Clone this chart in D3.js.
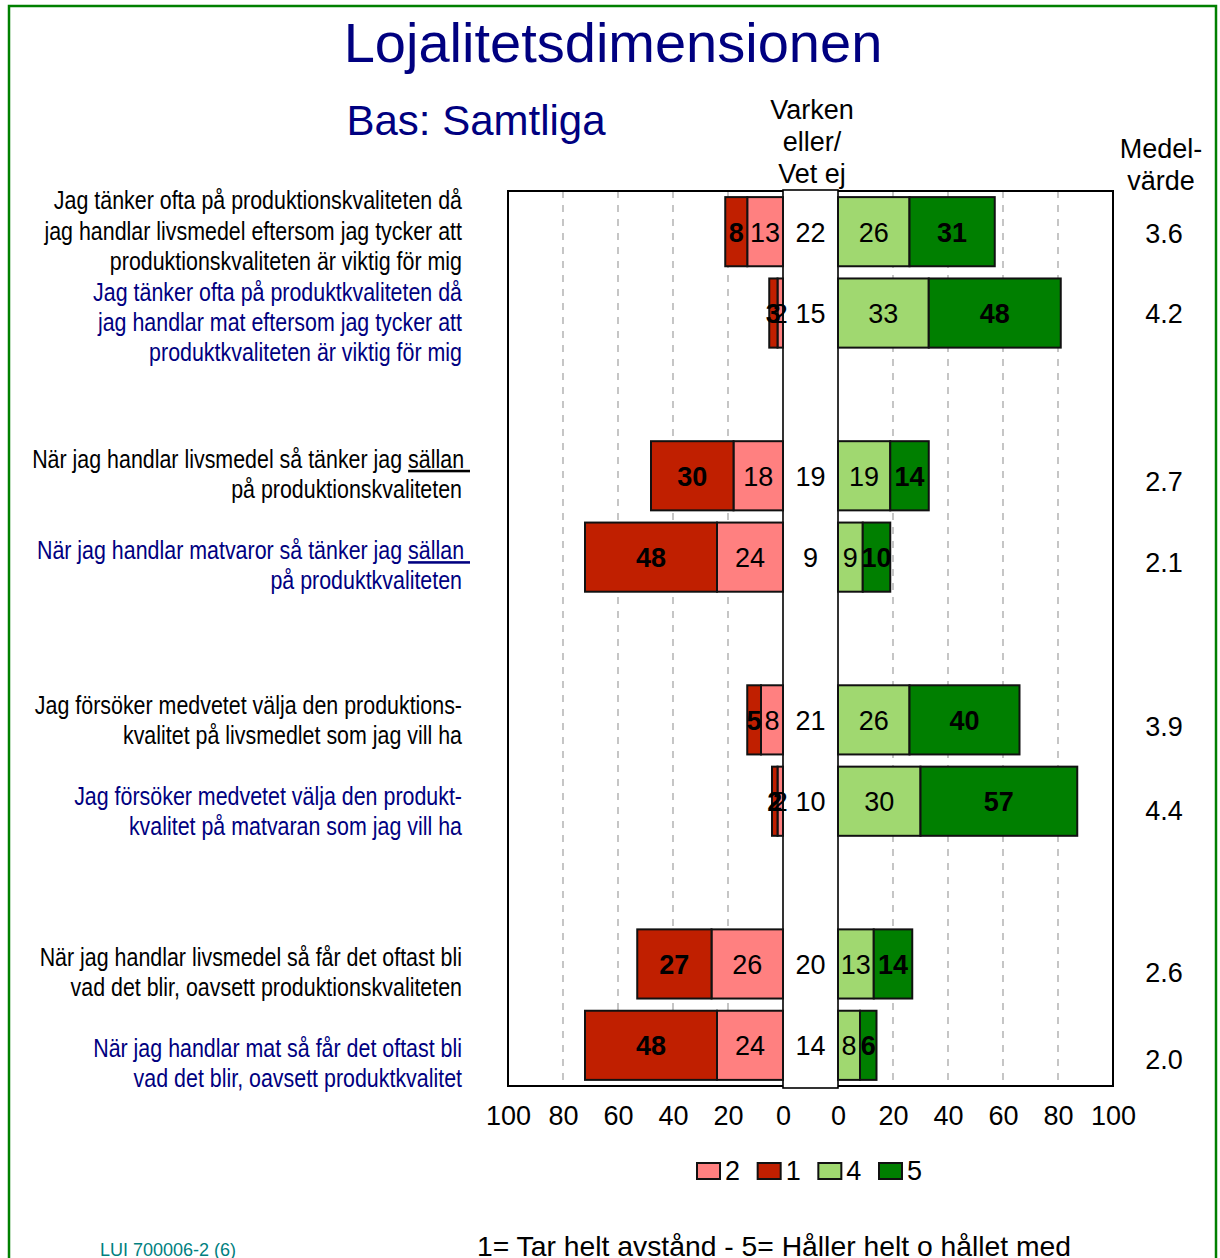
<!DOCTYPE html>
<html>
<head>
<meta charset="utf-8">
<script src="https://cdn.jsdelivr.net/npm/d3@7"></script>
<style>
  html, body { margin: 0; padding: 0; background: #fff; }
  svg { display: block; }
</style>
</head>
<body>
<svg id="chart" width="1220" height="1258"></svg>
<script>
// ---------- DATA ----------
const categories = [
  "Jag tänker ofta på produktionskvaliteten då\njag handlar livsmedel eftersom jag tycker att\nproduktionskvaliteten är viktig för mig",
  "Jag tänker ofta på produktkvaliteten då\njag handlar mat eftersom jag tycker att\nproduktkvaliteten är viktig för mig",
  "När jag handlar livsmedel så tänker jag sällan \npå produktionskvaliteten",
  "När jag handlar matvaror så tänker jag sällan \npå produktkvaliteten",
  "Jag försöker medvetet välja den produktions-\nkvalitet på livsmedlet som jag vill ha",
  "Jag försöker medvetet välja den produkt-\nkvalitet på matvaran som jag vill ha",
  "När jag handlar livsmedel så får det oftast bli\nvad det blir, oavsett produktionskvaliteten",
  "När jag handlar mat så får det oftast bli\nvad det blir, oavsett produktkvalitet"
];
const values1 = [8, 3, 30, 48, 5, 2, 27, 48];
const values2 = [13, 2, 18, 24, 8, 2, 26, 24];
const valuesNeutral = [22, 15, 19, 9, 21, 10, 20, 14];
const values4 = [26, 33, 19, 9, 26, 30, 13, 8];
const values5 = [31, 48, 14, 10, 40, 57, 14, 6];
const means = ["3.6", "4.2", "2.7", "2.1", "3.9", "4.4", "2.6", "2.0"];
const tickValues = [0, 20, 40, 60, 80, 100];
const legendKeys = ["2", "1", "4", "5"];
const underlinedWord = "sällan";

// ---------- LAYOUT / STYLE ----------
const colors = { "1": "#C01F00", "2": "#FF8080", "4": "#A0D870", "5": "#007F00" };
const navy = "#000080";
const sans = "'Liberation Sans', Arial, sans-serif";
const labelShift = [-1, 9, -2, 8, 0, 10, 8, 18];
const meanShift = [1, 0, 5, 5, 6, 9, 8, 14];
const narrowScale = 0.84;

const svg = d3.select("#chart");

// outer green border
svg.append("rect").attr("x", 9).attr("y", 6).attr("width", 1207).attr("height", 1270)
  .attr("fill", "none").attr("stroke", "#008000").attr("stroke-width", 2.5);

// band domain: two statements per group, blank slot between groups
const domain = [];
categories.forEach((c, i) => {
  domain.push("c" + i);
  if (i % 2 === 1 && i < categories.length - 1) domain.push("gap" + i);
});

const plotTop = 191, plotBottom = 1086;
const y = d3.scaleBand().domain(domain).range([plotTop, plotBottom])
  .paddingInner(0.15).paddingOuter(0.075);
const xL = d3.scaleLinear().domain([0, 100]).range([783, 508]);
const xR = d3.scaleLinear().domain([0, 100]).range([838, 1113]);

// gridlines
const grid = svg.append("g");
[xL, xR].forEach(sc => {
  grid.selectAll(null).data(sc.ticks(5).filter(t => t > 0 && t < 100)).enter()
    .append("line")
    .attr("x1", d => sc(d)).attr("x2", d => sc(d))
    .attr("y1", plotTop).attr("y2", plotBottom)
    .attr("stroke", "#a0a0a0").attr("stroke-width", 1.2)
    .attr("stroke-dasharray", "7,7");
});

// frame
svg.append("rect").attr("x", xL(100)).attr("y", plotTop)
  .attr("width", xR(100) - xL(100)).attr("height", plotBottom - plotTop)
  .attr("fill", "none").attr("stroke", "#000").attr("stroke-width", 2);

// center column
svg.append("rect").attr("x", xL(0)).attr("y", plotTop - 1)
  .attr("width", xR(0) - xL(0)).attr("height", plotBottom - plotTop + 3)
  .attr("fill", "#fff").attr("stroke", "#000").attr("stroke-width", 1.6);

// build segments
const rows = categories.map((c, i) => ({
  key: "c" + i, i,
  segs: [
    { k: "2", start: 0, v: values2[i], side: "L" },
    { k: "1", start: values2[i], v: values1[i], side: "L" },
    { k: "4", start: 0, v: values4[i], side: "R" },
    { k: "5", start: values4[i], v: values5[i], side: "R" }
  ]
}));

const bars = svg.append("g");
rows.forEach(r => {
  const y0 = y(r.key), bh = y.bandwidth();
  r.segs.forEach(s => {
    const sc = s.side === "L" ? xL : xR;
    const a = sc(s.start), b = sc(s.start + s.v);
    bars.append("rect")
      .attr("x", Math.min(a, b)).attr("y", y0)
      .attr("width", Math.abs(b - a)).attr("height", bh)
      .attr("fill", colors[s.k]).attr("stroke", "#111").attr("stroke-width", 2);
  });
});
// segment labels
rows.forEach(r => {
  const cy = y(r.key) + y.bandwidth() / 2;
  r.segs.forEach(s => {
    const sc = s.side === "L" ? xL : xR;
    bars.append("text")
      .attr("x", (sc(s.start) + sc(s.start + s.v)) / 2).attr("y", cy + 10)
      .attr("text-anchor", "middle")
      .attr("font-family", sans).attr("font-size", 27)
      .attr("font-weight", (s.k === "1" || s.k === "5") ? "bold" : "normal")
      .attr("fill", "#000").text(s.v);
  });
  bars.append("text")
    .attr("x", (xL(0) + xR(0)) / 2).attr("y", cy + 10)
    .attr("text-anchor", "middle").attr("font-family", sans).attr("font-size", 27)
    .text(valuesNeutral[r.i]);
  bars.append("text")
    .attr("x", 1164).attr("y", cy + 10 + meanShift[r.i])
    .attr("text-anchor", "middle").attr("font-family", sans).attr("font-size", 27)
    .text(means[r.i]);
});

// category labels (condensed via horizontal scale)
const lab = svg.append("g");
categories.forEach((c, i) => {
  const lines = c.split("\n");
  const cy = y("c" + i) + y.bandwidth() / 2 + labelShift[i];
  const lh = 30.3;
  const t = lab.append("text")
    .attr("transform", `translate(462,0) scale(${narrowScale},1)`)
    .attr("text-anchor", "end")
    .attr("font-family", sans).attr("font-size", 25.5)
    .attr("fill", i % 2 === 0 ? "#000" : navy)
    .style("white-space", "pre");
  lines.forEach((ln, j) => {
    const yy = cy + (j - (lines.length - 1) / 2) * lh + 9;
    const idx = ln.indexOf(underlinedWord);
    if (idx >= 0) {
      const pre = ln.slice(0, idx), rest = ln.slice(idx);
      t.append("tspan").attr("x", 8 / narrowScale).attr("y", yy).text(pre);
      t.append("tspan").style("text-decoration", "underline").text(rest);
    } else {
      t.append("tspan").attr("x", 0).attr("y", yy).text(ln);
    }
  });
});

// axes
const axL = d3.axisBottom(xL).tickValues(tickValues).tickSize(0).tickPadding(0);
const axR = d3.axisBottom(xR).tickValues(tickValues).tickSize(0).tickPadding(0);
[axL, axR].forEach(ax => {
  const g = svg.append("g").attr("transform", "translate(0,1104)").call(ax);
  g.select(".domain").remove();
  g.selectAll("text").attr("font-family", sans).attr("font-size", 27)
    .attr("fill", "#000").attr("dy", "0.76em");
});

// headers
const hdr = svg.append("g").attr("font-family", sans).attr("font-size", 27)
  .attr("text-anchor", "middle").attr("fill", "#000");
["Varken", "eller/", "Vet ej"].forEach((s, j) =>
  hdr.append("text").attr("x", 812).attr("y", 119 + j * 32).text(s));
["Medel-", "värde"].forEach((s, j) =>
  hdr.append("text").attr("x", 1161).attr("y", 158 + j * 32).text(s));

// titles
svg.append("text").attr("x", 613).attr("y", 62).attr("text-anchor", "middle")
  .attr("font-family", sans).attr("font-size", 56).attr("fill", navy)
  .text("Lojalitetsdimensionen");
svg.append("text").attr("x", 476).attr("y", 135).attr("text-anchor", "middle")
  .attr("font-family", sans).attr("font-size", 42).attr("fill", navy)
  .text("Bas: Samtliga");

// legend
const lg = svg.append("g");
const legendX = d3.scalePoint().domain(legendKeys).range([697, 879]);
legendKeys.forEach(k => {
  lg.append("rect").attr("x", legendX(k)).attr("y", 1163).attr("width", 23).attr("height", 16)
    .attr("fill", colors[k]).attr("stroke", "#111").attr("stroke-width", 2);
  lg.append("text").attr("x", legendX(k) + 28).attr("y", 1180)
    .attr("font-family", sans).attr("font-size", 27).text(k);
});

// footer
svg.append("text").attr("x", 100).attr("y", 1256)
  .attr("font-family", sans).attr("font-size", 18).attr("fill", "#008080")
  .text("LUI 700006-2 (6)");
svg.append("text").attr("x", 477).attr("y", 1256)
  .attr("font-family", sans).attr("font-size", 28.3).attr("fill", "#000")
  .text("1= Tar helt avstånd - 5= Håller helt o hållet med");
</script>
</body>
</html>
